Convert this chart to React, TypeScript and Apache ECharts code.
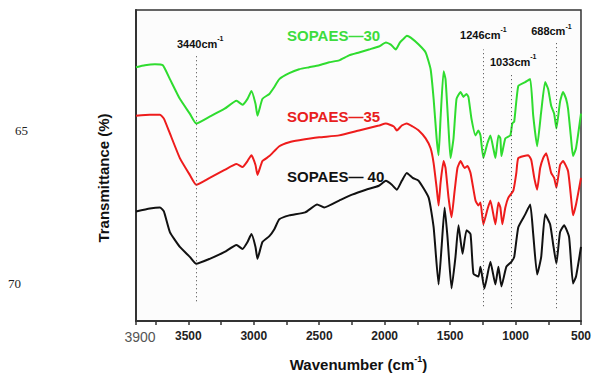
import React, { useEffect, useRef } from "react";
import * as echarts from "echarts";

// Wavenumbers (cm^-1) and relative transmittance (arbitrary, offset spectra)
const green30: [number, number][] = [
  [3900, 257], [3832, 259], [3755, 260], [3695, 259], [3641, 245], [3565, 225], [3489, 210], [3440, 200],
  [3337, 207], [3223, 215], [3132, 223], [3086, 219], [3048, 225], [3018, 233], [2987, 220], [2972, 208],
  [2934, 225], [2881, 230], [2843, 237], [2805, 245], [2729, 251], [2653, 255], [2577, 257], [2500, 259],
  [2424, 262], [2348, 264], [2272, 269], [2196, 272], [2120, 275], [2044, 278], [1991, 282], [1953, 280],
  [1915, 275], [1884, 282], [1854, 286], [1831, 289], [1801, 287], [1740, 280], [1687, 272], [1649, 255],
  [1626, 225], [1603, 185], [1588, 168], [1573, 205], [1550, 253], [1535, 245], [1512, 195], [1497, 165],
  [1474, 185], [1451, 225], [1420, 232], [1398, 227], [1375, 230], [1360, 227], [1337, 205], [1306, 188],
  [1284, 193], [1268, 188], [1246, 165], [1215, 180], [1192, 188], [1170, 175], [1154, 165], [1131, 188],
  [1116, 185], [1108, 167], [1078, 185], [1040, 188], [1025, 200], [1010, 202], [979, 238], [926, 242],
  [888, 245], [865, 208], [835, 177], [804, 212], [774, 242], [751, 235], [728, 218], [705, 210],
  [688, 195], [660, 222], [637, 232], [614, 225], [599, 215], [576, 185], [561, 167], [538, 175], [500, 210],
];

const red35: [number, number][] = [
  [3900, 208], [3794, 209], [3717, 209], [3687, 205], [3641, 190], [3565, 165], [3489, 148], [3440, 138],
  [3337, 145], [3223, 153], [3132, 159], [3086, 156], [3048, 162], [3018, 168], [2987, 158], [2972, 148],
  [2934, 162], [2881, 167], [2805, 177], [2729, 181], [2653, 183], [2500, 186], [2348, 188], [2196, 193],
  [2044, 198], [1991, 200], [1930, 197], [1907, 193], [1869, 198], [1831, 200], [1786, 197], [1740, 193],
  [1687, 185], [1649, 175], [1626, 160], [1603, 135], [1588, 117], [1573, 140], [1550, 162], [1535, 155],
  [1512, 125], [1489, 105], [1467, 130], [1444, 155], [1420, 162], [1390, 155], [1367, 157], [1344, 150],
  [1306, 122], [1284, 117], [1268, 120], [1246, 98], [1215, 113], [1192, 122], [1154, 98], [1131, 120],
  [1116, 115], [1101, 98], [1078, 115], [1055, 125], [1017, 132], [994, 150], [979, 165], [903, 168],
  [880, 163], [857, 145], [835, 133], [812, 155], [789, 165], [766, 170], [728, 150], [705, 145],
  [688, 135], [660, 158], [637, 162], [599, 152], [576, 125], [561, 107], [538, 118], [500, 145],
];

const black40: [number, number][] = [
  [3900, 111], [3794, 114], [3717, 115], [3687, 111], [3641, 90], [3565, 75], [3489, 65], [3440, 58],
  [3337, 63], [3223, 70], [3132, 77], [3086, 73], [3048, 80], [3018, 88], [2987, 75], [2972, 63],
  [2934, 80], [2881, 86], [2843, 93], [2805, 103], [2729, 107], [2607, 110], [2516, 118], [2462, 115],
  [2348, 122], [2249, 128], [2143, 133], [2044, 137], [1991, 142], [1945, 138], [1907, 133], [1869, 142],
  [1831, 150], [1786, 145], [1740, 142], [1664, 125], [1626, 95], [1588, 37], [1565, 75], [1542, 115],
  [1520, 85], [1489, 33], [1459, 65], [1436, 97], [1405, 68], [1375, 92], [1344, 88], [1322, 48],
  [1284, 45], [1268, 55], [1238, 33], [1192, 60], [1154, 37], [1131, 55], [1108, 35], [1070, 55],
  [1032, 60], [1010, 65], [979, 95], [926, 108], [888, 118], [865, 88], [835, 47], [804, 65],
  [774, 108], [736, 98], [713, 78], [688, 58], [660, 90], [629, 97], [591, 85], [561, 38], [538, 45], [500, 75],
];

const seriesNames = ["SOPAES\u201430", "SOPAES\u201435", "SOPAES\u2014 40"];
const seriesColors = ["#2fdc2f", "#ee1c1c", "#111111"];

// Peak annotations: wavenumber, [bottom, top] of dotted guide
const peaks: { wn: number; lo: number; hi: number }[] = [
  { wn: 3440, lo: 20, hi: 270 },
  { wn: 1246, lo: 15, hi: 275 },
  { wn: 1033, lo: 13, hi: 250 },
  { wn: 688, lo: 13, hi: 283 },
];

// label placement styles for the peak annotations (same order as peaks)
const peakLabelStyle: { gap: number; dx: number }[] = [
  { gap: 5, dx: 4 },
  { gap: 9, dx: 0 },
  { gap: 7, dx: 2 },
  { gap: 5, dx: -5 },
];

const xTicks = [500, 1000, 1500, 2000, 2500, 3000, 3500];

export default function App() {
  const ref = useRef<HTMLDivElement>(null);
  useEffect(() => {
    if (!ref.current) return;
    const chart = echarts.init(ref.current, undefined, { renderer: "svg" });
    const font = "Arial, 'Liberation Sans', sans-serif";
    const markData = peaks.map((p, k) => [
      { coord: [p.wn, p.lo], symbol: "none" },
      {
        coord: [p.wn, p.hi],
        symbol: "none",
        label: {
          show: true,
          position: "end",
          distance: peakLabelStyle[k].gap,
          offset: [peakLabelStyle[k].dx, 0],
          formatter: `{a|${p.wn}cm}{s|-1}`,
          rich: {
            a: { fontSize: 11, fontWeight: "bold", color: "#111", fontFamily: font, verticalAlign: "bottom", lineHeight: 14 },
            s: { fontSize: 7, fontWeight: "bold", color: "#111", fontFamily: font, verticalAlign: "top", lineHeight: 8 },
          },
        },
      },
    ]);
    const datas = [green30, red35, black40];
    chart.setOption({
      animation: false,
      backgroundColor: "#ffffff",
      grid: {
        left: 136, right: 11, top: 10, bottom: 52,
        show: true, borderColor: "#333", borderWidth: 1.5, backgroundColor: "#fcfcfc",
      },
      xAxis: {
        type: "value",
        inverse: true,
        min: 500,
        max: 3900,
        interval: 250,
        splitLine: { show: false },
        axisLine: { onZero: false, lineStyle: { color: "#333", width: 2 } },
        axisTick: { show: true, length: 4, lineStyle: { color: "#333", width: 1.5 } },
        axisLabel: {
          margin: 9,
          showMaxLabel: true,
          formatter: (v: number) => {
            if (v === 3900) return "{g|3900}";
            return xTicks.includes(v) ? `{b|${v}}` : "";
          },
          rich: {
            b: { fontSize: 12, fontWeight: "bold", color: "#222", fontFamily: font },
            g: { fontSize: 14, fontWeight: "normal", color: "#555", fontFamily: font, padding: [0, 0, 0, 8] },
          },
        },
        name: "{n|Wavenumber (cm}{s|-1}{n|)}",
        nameLocation: "middle",
        nameGap: 33,
        nameTextStyle: {
          rich: {
            n: { fontSize: 15, fontWeight: "bold", color: "#111", fontFamily: font, verticalAlign: "bottom", lineHeight: 18 },
            s: { fontSize: 9, fontWeight: "bold", color: "#111", fontFamily: font, verticalAlign: "top", lineHeight: 10 },
          },
        },
      },
      yAxis: {
        type: "value",
        min: 0,
        max: 315,
        show: true,
        axisLine: { show: true, lineStyle: { color: "#333", width: 2 } },
        axisTick: { show: false },
        axisLabel: { show: false },
        splitLine: { show: false },
      },
      series: datas.map((d, i) => ({
        type: "line",
        name: seriesNames[i],
        data: d,
        showSymbol: false,
        smooth: 0.15,
        lineStyle: { color: seriesColors[i], width: 2 },
        itemStyle: { color: seriesColors[i] },
        z: 3 - i,
        markLine:
          i === 0
            ? {
                silent: true,
                symbol: "none",
                lineStyle: { type: [1, 3], color: "#444", width: 1 },
                data: markData,
              }
            : undefined,
      })),
      graphic: [
        { type: "rect", left: 0, top: 0, shape: { x: 0, y: 0, width: 83, height: 377 }, style: { fill: "#ffffff" }, z: -10, silent: true },
        { type: "text", x: 287, y: 35, style: { text: seriesNames[0], fill: "#3ddc3d", font: `bold 15px ${font}`, textVerticalAlign: "middle" } },
        { type: "text", x: 287, y: 116, style: { text: seriesNames[1], fill: "#e8201c", font: `bold 15px ${font}`, textVerticalAlign: "middle" } },
        { type: "text", x: 287, y: 176, style: { text: seriesNames[2], fill: "#111111", font: `bold 15px ${font}`, textVerticalAlign: "middle" } },
        {
          type: "text", x: 103, y: 178, rotation: Math.PI / 2,
          style: { text: "Transmittance (%)", fill: "#111", font: `bold 15px ${font}`, textAlign: "center", textVerticalAlign: "middle" },
        },
        { type: "text", x: 15, y: 130, style: { text: "65", fill: "#222", font: "13px 'Liberation Serif', 'DejaVu Serif', serif", textVerticalAlign: "middle" } },
        { type: "text", x: 8, y: 283, style: { text: "70", fill: "#222", font: "13px 'Liberation Serif', 'DejaVu Serif', serif", textVerticalAlign: "middle" } },
      ],
    });
    return () => chart.dispose();
  }, []);
  return <div ref={ref} style={{ width: 594, height: 377, position: "fixed", left: 0, top: 0 }} />;
}
